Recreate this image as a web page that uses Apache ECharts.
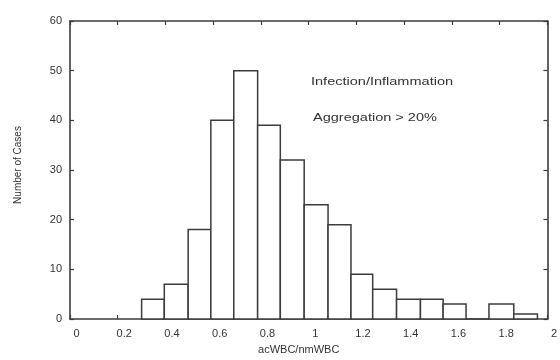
<!DOCTYPE html>
<html>
<head>
<meta charset="utf-8">
<script src="https://cdn.jsdelivr.net/npm/echarts@6/dist/echarts.min.js"></script>
<style>html,body{margin:0;padding:0;background:#fff}#c{width:560px;height:360px}</style>
</head>
<body>
<div id="c"></div>
<script>
// Bin edges (in x units) and counts per bin
var binEdges = [0.30, 0.395, 0.495, 0.59, 0.686, 0.786, 0.881, 0.981, 1.081, 1.177, 1.268, 1.368, 1.468, 1.563, 1.659, 1.755, 1.859, 1.958];
var counts = [4, 7, 18, 40, 50, 39, 32, 23, 19, 9, 6, 4, 4, 3, 0, 3, 1];
var xTicks = [0, 0.2, 0.4, 0.6, 0.8, 1, 1.2, 1.4, 1.6, 1.8, 2];
var yTicks = [0, 10, 20, 30, 40, 50, 60];
var xTitle = 'acWBC/nmWBC';
var yTitle = 'Number of Cases';
var notes = ['Infection/Inflammation', 'Aggregation > 20%'];

var data = counts.map(function (c, i) { return [binEdges[i], binEdges[i + 1], c]; });

var FONT = 'Liberation Sans';
var TXT = '#333';
var LINE = '#3c3c3c';

var chart = echarts.init(document.getElementById('c'), null, { renderer: 'canvas' });
var axisCommon = {
  axisLine: { show: true, onZero: false, lineStyle: { color: LINE, width: 1.6 } },
  axisTick: { show: true, inside: true, length: 4, lineStyle: { color: LINE, width: 1.2 } },
  splitLine: { show: false }
};
chart.setOption({
  animation: false,
  backgroundColor: '#fff',
  grid: { left: 70, right: 11, top: 21, bottom: 36 },
  xAxis: [
    Object.assign({
      type: 'value', min: xTicks[0], max: xTicks[xTicks.length - 1], interval: 0.2, position: 'bottom',
      name: xTitle, nameLocation: 'middle', nameGap: 25,
      nameTextStyle: { fontFamily: FONT, fontSize: 11, color: TXT, padding: [0, 20, 0, 0] },
      axisLabel: { show: true, margin: 9, fontFamily: FONT, fontSize: 11, color: TXT, padding: [0, 0, 0, 13],
        formatter: function (v) { return String(Math.round(v * 10) / 10); } }
    }, axisCommon),
    Object.assign({
      type: 'value', min: xTicks[0], max: xTicks[xTicks.length - 1], interval: 0.2, position: 'top',
      axisLabel: { show: false }
    }, axisCommon)
  ],
  yAxis: [
    Object.assign({
      type: 'value', min: yTicks[0], max: yTicks[yTicks.length - 1], interval: 10, position: 'left',
      name: yTitle, nameLocation: 'middle', nameGap: 47, nameRotate: 90,
      nameTextStyle: { fontFamily: FONT, fontSize: 10, color: TXT, padding: [0, 0, 0, 10] },
      axisLabel: { show: true, margin: 8, fontFamily: FONT, fontSize: 11, color: TXT }
    }, axisCommon),
    Object.assign({
      type: 'value', min: yTicks[0], max: yTicks[yTicks.length - 1], interval: 10, position: 'right',
      axisLabel: { show: false }
    }, axisCommon)
  ],
  series: [{
    type: 'custom',
    xAxisIndex: 0, yAxisIndex: 0,
    data: data,
    encode: { x: [0, 1], y: 2 },
    renderItem: function (params, api) {
      var p0 = api.coord([api.value(0), api.value(2)]);
      var p1 = api.coord([api.value(1), 0]);
      return {
        type: 'rect',
        shape: { x: p0[0], y: p0[1], width: p1[0] - p0[0], height: p1[1] - p0[1] },
        style: { fill: '#fff', stroke: LINE, lineWidth: 1.5 }
      };
    }
  }],
  graphic: [
    { type: 'text', left: 311, top: 76, style: { text: notes[0], font: '11px "' + FONT + '"', fill: TXT }, scaleX: 1.32 },
    { type: 'text', left: 313, top: 112, style: { text: notes[1], font: '11px "' + FONT + '"', fill: TXT }, scaleX: 1.32 }
  ]
});
</script>
</body>
</html>
